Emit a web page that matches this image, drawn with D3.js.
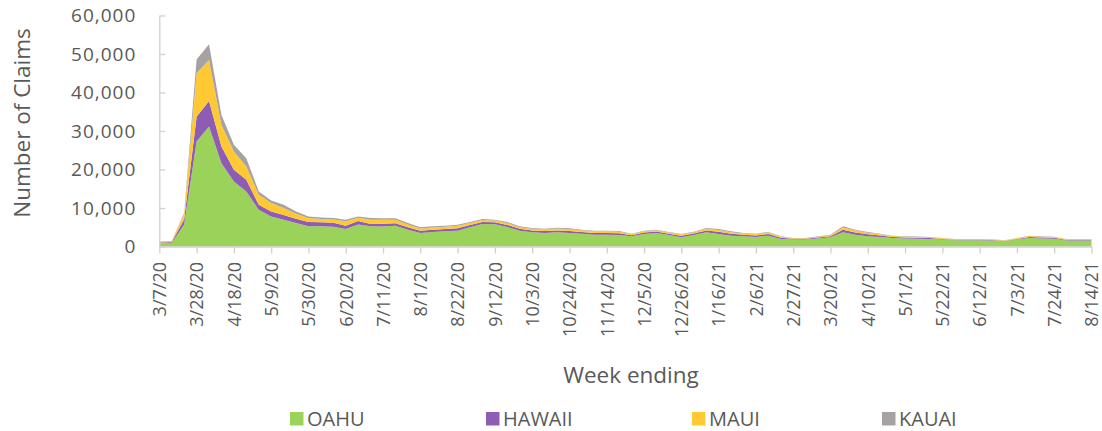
<!DOCTYPE html>
<html>
  <head>
    <meta charset="utf-8">
    <title>Weekly unemployment claims by county</title>
    <script src="https://d3js.org/d3.v7.min.js"></script>
    <style>
      body { margin: 0; background: #fff; }
      #chart { display: block; }
      text { font-family: "Open Sans", sans-serif; fill: #595959; }
      .axis .domain, .axis line { stroke: #d0d0d0; stroke-width: 1.3px; }
      .yAxis text { font-size: 19px; letter-spacing: 1px; }
      .xAxis text { font-size: 18px; }
      .title { font-size: 22.5px; }
      .legendItem text { font-size: 20px; }
    </style>
  </head>
  <body>
    <svg id="chart" width="1102" height="431"></svg>
    <script>
      // data (week ending, Mar 7 2020 to Aug 14 2021)
      firstWeek = new Date(Date.UTC(2020, 2, 7));
      lastWeek = new Date(Date.UTC(2021, 7, 14));
      weeks = d3.utcDay.range(firstWeek, d3.utcDay.offset(lastWeek, 1), 7);
      islands = ["OAHU", "HAWAII", "MAUI", "KAUAI"];
      colours = ["#9bd35a", "#8e5cb5", "#ffc934", "#a6a2a2"];
      oahu = [900, 1000, 5700, 27250, 31140, 21650, 16900, 14300, 9560, 7820,
        6970, 6100, 5230, 5230, 5100, 4560, 5700, 5230, 5200, 5410,
        4380, 3520, 3780, 3950, 4120, 4980, 5850, 5760, 5070, 4120,
        3680, 3520, 3680, 3520, 3340, 3080, 3080, 3000, 2650, 3250,
        3520, 3000, 2380, 3000, 3700, 3250, 2820, 2650, 2480, 2820,
        1970, 1790, 1790, 2050, 2380, 3680, 3080, 2650, 2480, 2230,
        2050, 2020, 1970, 1790, 1610, 1610, 1610, 1580, 1350, 1790,
        2230, 2050, 2000, 1530, 1530, 1530];
      hawaii = [150, 170, 1300, 6480, 6660, 4310, 3020, 3030, 1290, 1300,
        1220, 1130, 1140, 1070, 1050, 850, 900, 620, 700, 650,
        600, 600, 580, 580, 620, 580, 540, 520, 540, 470,
        490, 480, 500, 500, 450, 450, 450, 440, 300, 380,
        380, 340, 380, 380, 450, 550, 480, 380, 380, 420,
        300, 200, 200, 260, 300, 650, 550, 500, 380, 260,
        260, 250, 220, 190, 160, 160, 160, 130, 110, 190,
        260, 260, 250, 190, 190, 190];
      maui = [150, 180, 1400, 11240, 10620, 5620, 4740, 3450, 2590, 2170,
        1810, 1290, 1030, 850, 850, 1120, 850, 1120, 1050, 900,
        750, 550, 580, 580, 620, 560, 520, 480, 520, 440,
        450, 440, 480, 480, 400, 400, 400, 400, 270, 340,
        330, 300, 340, 330, 450, 500, 430, 330, 330, 370,
        260, 170, 170, 230, 270, 600, 500, 420, 320, 230,
        230, 220, 200, 170, 140, 140, 140, 120, 100, 170,
        230, 230, 220, 170, 170, 170];
      kauai = [100, 100, 300, 3630, 4140, 2590, 1740, 2170, 860, 680,
        850, 600, 420, 410, 400, 440, 370, 430, 400, 390,
        370, 310, 290, 290, 310, 250, 240, 210, 240, 200,
        200, 200, 240, 230, 190, 190, 190, 190, 120, 150,
        150, 140, 150, 140, 220, 250, 210, 160, 150, 170,
        120, 70, 70, 110, 130, 300, 250, 210, 160, 100,
        110, 100, 90, 80, 60, 60, 60, 50, 50, 80,
        100, 110, 90, 80, 80, 80];
      yTicks = [0, 10000, 20000, 30000, 40000, 50000, 60000];
      // rows for the stack
      table = weeks.map(function(d, i) {
        return { week: d, OAHU: oahu[i], HAWAII: hawaii[i], MAUI: maui[i], KAUAI: kauai[i] };
      });
      series = d3.stack().keys(islands)(table);
      // page elements
      chart = d3.select("#chart");
      margin = { top: 15.5, right: 10.5, bottom: 184.5, left: 159.3 };
      width = 1102 - margin.left - margin.right;
      height = 431 - margin.top - margin.bottom;
      plot = chart.append("g")
        .attr("transform", "translate(" + margin.left + "," + margin.top + ")");
      // scales
      x = d3.scaleUtc()
        .domain([firstWeek, lastWeek])
        .range([0, width]);
      y = d3.scaleLinear()
        .domain([0, 60000])
        .range([height, 0]);
      colour = d3.scaleOrdinal()
        .domain(islands)
        .range(colours);
      area = d3.area()
        .x(function(d) { return x(d.data.week); })
        .y0(function(d) { return y(d[0]); })
        .y1(function(d) { return y(d[1]); });
      // stacked areas
      plot.selectAll(".layer")
          .data(series)
        .enter().append("path")
          .classed("layer", true)
          .attr("d", area)
          .style("fill", function(d) { return colour(d.key); });
      // axes
      plot.append("g")
        .attr("class", "axis yAxis")
        .call(d3.axisLeft(y)
          .tickValues(yTicks)
          .tickFormat(d3.format(","))
          .tickSizeInner(-6)
          .tickSizeOuter(0)
          .tickPadding(23));
      xAxis = plot.append("g")
        .attr("class", "axis xAxis")
        .attr("transform", "translate(0," + height + ")")
        .call(d3.axisBottom(x)
          .tickValues(weeks.filter(function(d, i) { return i % 3 === 0; }))
          .tickFormat(d3.utcFormat("%-m/%-d/%y"))
          .tickSizeInner(7)
          .tickSizeOuter(0));
      xAxis.selectAll("text")
        .attr("transform", "rotate(-90)")
        .attr("x", -15.5)
        .attr("y", 0)
        .attr("dy", "0.35em")
        .style("text-anchor", "end");
      // axis titles
      chart.append("text")
        .attr("class", "title")
        .attr("transform", "translate(30,123) rotate(-90)")
        .style("text-anchor", "middle")
        .text("Number of Claims");
      chart.append("text")
        .attr("class", "title")
        .attr("x", 631)
        .attr("y", 383)
        .style("text-anchor", "middle")
        .text("Week ending");
      // legend
      legendX = [290, 486, 692, 882];
      legendItems = chart.selectAll(".legendItem")
          .data(islands)
        .enter().append("g")
          .classed("legendItem", true)
          .attr("transform", function(d, i) { return "translate(" + legendX[i] + ",412)"; });
      legendItems.append("rect")
        .attr("width", 13.5)
        .attr("height", 13.5)
        .style("fill", function(d) { return colour(d); });
      legendItems.append("text")
        .attr("x", 17)
        .attr("y", 13.5)
        .text(function(d) { return d; });
    </script>
  </body>
</html>
